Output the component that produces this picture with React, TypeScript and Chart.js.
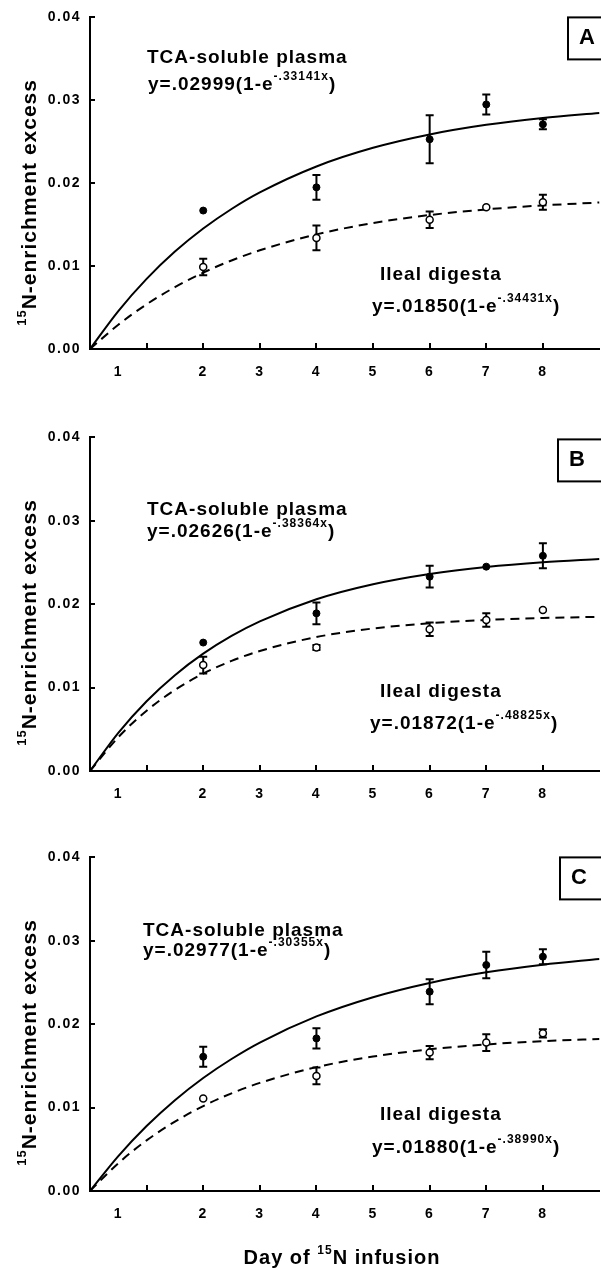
import React, { useEffect, useRef } from "react";
import { Chart, registerables } from "chart.js";

Chart.register(...registerables);

// ---------------- data ----------------
const days = [2, 4, 6, 7, 8];

const plasmaA = [0.0167, 0.0195, 0.0253, 0.0295, 0.0271];
const plasmaErrA = [0, 0.0015, 0.0029, 0.0012, 0.0006];
const ilealA = [0.0099, 0.0134, 0.0156, 0.0171, 0.0177];
const ilealErrA = [0.001, 0.0015, 0.001, 0, 0.0009];

const plasmaB = [0.0154, 0.0189, 0.0233, 0.0245, 0.0258];
const plasmaErrB = [0, 0.0013, 0.0013, 0, 0.0015];
const ilealB = [0.0127, 0.0148, 0.017, 0.0181, 0.0193];
const ilealErrB = [0.001, 0.0003, 0.0008, 0.0008, 0];

const plasmaC = [0.0161, 0.0183, 0.0239, 0.0271, 0.0281];
const plasmaErrC = [0.0012, 0.0012, 0.0015, 0.0016, 0.0009];
const ilealC = [0.0111, 0.0138, 0.0166, 0.0178, 0.0189];
const ilealErrC = [0, 0.001, 0.0008, 0.001, 0.0005];

// fitted curves
const curveDays = [0, 0.5, 1, 1.5, 2, 2.5, 3, 4, 5, 6, 7, 8, 9];
const plasmaCurveA = [0, 0.00458, 0.00846, 0.01175, 0.01453, 0.01689, 0.01889, 0.02202, 0.02427, 0.02588, 0.02704, 0.02787, 0.02847];
const ilealCurveA = [0, 0.00293, 0.00539, 0.00746, 0.00921, 0.01068, 0.01191, 0.01383, 0.01519, 0.01616, 0.01684, 0.01732, 0.01767];
const plasmaCurveB = [0, 0.00458, 0.00837, 0.01149, 0.01407, 0.0162, 0.01795, 0.0206, 0.0224, 0.02363, 0.02447, 0.02504, 0.02543];
const ilealCurveB = [0, 0.00405, 0.00723, 0.00972, 0.01167, 0.0132, 0.01439, 0.01606, 0.01709, 0.01772, 0.01811, 0.01834, 0.01849];
const plasmaCurveC = [0, 0.00419, 0.00779, 0.01089, 0.01355, 0.01583, 0.0178, 0.02093, 0.02324, 0.02495, 0.02622, 0.02714, 0.02783];
const ilealCurveC = [0, 0.00333, 0.00607, 0.00832, 0.01018, 0.01171, 0.01296, 0.01485, 0.01612, 0.01699, 0.01757, 0.01797, 0.01824];

const xTickMarks = [1, 2, 3, 4, 5, 6, 7, 8];
const xTickLabelPos = [0.5, 2, 3, 4, 5, 6, 7, 8];
const xTickLabels = ["1", "2", "3", "4", "5", "6", "7", "8"];
const yTickValues = [0, 0.01, 0.02, 0.03, 0.04];
const yTickLabels = ["0.00", "0.01", "0.02", "0.03", "0.04"];

const panelLetters = ["A", "B", "C"];
const plasmaLabel = "TCA-soluble plasma";
const ilealLabel = "Ileal digesta";
const plasmaCoefs = [".02999", ".02626", ".02977"];
const plasmaRates = ["-.33141x", "-.38364x", "-.30355x"];
const ilealCoefs = [".01850", ".01872", ".01880"];
const ilealRates = ["-.34431x", "-.48825x", "-.38990x"];
const yTitleSup = "15";
const yTitleMain = "N-enrichment excess";
const xTitlePre = "Day of ";
const xTitleSup = "15";
const xTitlePost = "N infusion";

const series = [
  { plasma: plasmaA, plasmaErr: plasmaErrA, ileal: ilealA, ilealErr: ilealErrA, pc: plasmaCurveA, ic: ilealCurveA },
  { plasma: plasmaB, plasmaErr: plasmaErrB, ileal: ilealB, ilealErr: ilealErrB, pc: plasmaCurveB, ic: ilealCurveB },
  { plasma: plasmaC, plasmaErr: plasmaErrC, ileal: ilealC, ilealErr: ilealErrC, pc: plasmaCurveC, ic: ilealCurveC },
];

// ---------------- layout ----------------
const CANVAS_W = 605;
const LAYOUT = [
  { top: 0, height: 420, areaTop: 13, areaBottom: 349, plasma: [57, 40], plasmaEq: [58, 67], ileal: [290, 257], ilealEq: [282, 289], box: [478, 0], xTitle: false },
  { top: 420, height: 420, areaTop: 16, areaBottom: 351, plasma: [57, 72], plasmaEq: [57, 94], ileal: [290, 254], ilealEq: [280, 286], box: [468, 2], xTitle: false },
  { top: 840, height: 430, areaTop: 15, areaBottom: 351, plasma: [53, 73], plasmaEq: [53, 93], ileal: [290, 257], ilealEq: [282, 290], box: [470, 0], xTitle: true },
];

const FAMILY = '"Liberation Sans", Arial, Helvetica, sans-serif';

type Seg = { t: string; sup?: boolean };

function drawRich(ctx: CanvasRenderingContext2D, segs: Seg[], x: number, y: number, size: number, supSize: number, spacing: number, align: "left" | "center") {
  ctx.save();
  ctx.fillStyle = "#000";
  ctx.textBaseline = "middle";
  ctx.textAlign = "left";
  (ctx as any).letterSpacing = spacing + "px";
  const fontFor = (s: number) => `bold ${s}px ${FAMILY}`;
  let total = 0;
  for (const s of segs) {
    ctx.font = fontFor(s.sup ? supSize : size);
    total += ctx.measureText(s.t).width;
  }
  let cx = align === "center" ? x - total / 2 : x;
  for (const s of segs) {
    ctx.font = fontFor(s.sup ? supSize : size);
    ctx.fillText(s.t, cx, s.sup ? y - size * 0.38 : y);
    cx += ctx.measureText(s.t).width;
  }
  ctx.restore();
}

function makePanel(canvas: HTMLCanvasElement, idx: number) {
  const L = LAYOUT[idx];
  const S = series[idx];

  const errorBars = {
    id: "errorBars" + idx,
    beforeDatasetsDraw(chart: any) {
      const ctx = chart.ctx;
      const xs = chart.scales.x;
      const ys = chart.scales.y;
      ctx.save();
      ctx.strokeStyle = "#000";
      ctx.lineWidth = 2;
      chart.data.datasets.forEach((ds: any) => {
        if (!ds.errors) return;
        ds.data.forEach((p: any, i: number) => {
          const e = ds.errors[i];
          if (!e) return;
          const px = xs.getPixelForValue(p.x);
          const y1 = ys.getPixelForValue(p.y + e);
          const y2 = ys.getPixelForValue(p.y - e);
          ctx.beginPath();
          ctx.moveTo(px, y1);
          ctx.lineTo(px, y2);
          ctx.moveTo(px - 4, y1);
          ctx.lineTo(px + 4, y1);
          ctx.moveTo(px - 4, y2);
          ctx.lineTo(px + 4, y2);
          ctx.stroke();
        });
      });
      ctx.restore();
    },
  };

  const decorations = {
    id: "decor" + idx,
    beforeDraw(chart: any) {
      (chart.ctx as any).letterSpacing = "1.5px";
    },
    afterDraw(chart: any) {
      const ctx = chart.ctx as CanvasRenderingContext2D;
      const xs = chart.scales.x;
      const ys = chart.scales.y;
      const a = chart.chartArea;
      ctx.save();
      ctx.strokeStyle = "#000";
      ctx.lineWidth = 2;
      ctx.beginPath();
      xTickMarks.forEach((v) => {
        const px = Math.round(xs.getPixelForValue(v));
        ctx.moveTo(px, a.bottom);
        ctx.lineTo(px, a.bottom - 6);
      });
      yTickValues.forEach((v) => {
        if (v === 0) return;
        const py = Math.round(ys.getPixelForValue(v));
        ctx.moveTo(a.left, py);
        ctx.lineTo(a.left + 5, py);
      });
      ctx.stroke();

      // panel letter box (its right side runs off the page)
      const bx = a.left + L.box[0];
      const by = a.top + L.box[1];
      ctx.strokeRect(bx, by, 60, 42);
      ctx.restore();
      drawRich(ctx, [{ t: panelLetters[idx] }], bx + 19, by + 21, 22, 22, 0, "center");

      // annotations
      drawRich(ctx, [{ t: plasmaLabel }], a.left + L.plasma[0], a.top + L.plasma[1], 19, 12, 1, "left");
      drawRich(ctx, [{ t: "y=" + plasmaCoefs[idx] + "(1-e" }, { t: plasmaRates[idx], sup: true }, { t: ")" }], a.left + L.plasmaEq[0], a.top + L.plasmaEq[1], 19, 12, 1, "left");
      drawRich(ctx, [{ t: ilealLabel }], a.left + L.ileal[0], a.top + L.ileal[1], 19, 12, 1, "left");
      drawRich(ctx, [{ t: "y=" + ilealCoefs[idx] + "(1-e" }, { t: ilealRates[idx], sup: true }, { t: ")" }], a.left + L.ilealEq[0], a.top + L.ilealEq[1], 19, 12, 1, "left");

      // y title (rotated)
      ctx.save();
      ctx.translate(30, a.top + 185);
      ctx.rotate(-Math.PI / 2);
      drawRich(ctx, [{ t: yTitleSup, sup: true }, { t: yTitleMain }], 0, 0, 21, 13, 1, "center");
      ctx.restore();

      if (L.xTitle) {
        drawRich(ctx, [{ t: xTitlePre }, { t: xTitleSup, sup: true }, { t: xTitlePost }], 342, 418, 20, 12, 1, "center");
      }
    },
  };

  const pts = (vals: number[]) => days.map((d, i) => ({ x: d, y: vals[i] }));
  const curve = (vals: number[]) => curveDays.map((d, i) => ({ x: d, y: vals[i] }));

  return new Chart(canvas, {
    type: "scatter",
    data: {
      datasets: [
        {
          data: pts(S.plasma),
          errors: S.plasmaErr,
          pointRadius: 3.5,
          pointBackgroundColor: "#000",
          pointBorderColor: "#000",
          pointBorderWidth: 1,
          showLine: false,
        } as any,
        {
          data: pts(S.ileal),
          errors: S.ilealErr,
          pointRadius: 3.5,
          pointBackgroundColor: "#fff",
          pointBorderColor: "#000",
          pointBorderWidth: 1.5,
          showLine: false,
        } as any,
        {
          data: curve(S.pc),
          showLine: true,
          pointRadius: 0,
          borderColor: "#000",
          borderWidth: 2,
          cubicInterpolationMode: "monotone",
          fill: false,
        },
        {
          data: curve(S.ic),
          showLine: true,
          pointRadius: 0,
          borderColor: "#000",
          borderWidth: 2,
          borderDash: [9, 6],
          cubicInterpolationMode: "monotone",
          fill: false,
        },
      ],
    },
    options: {
      responsive: false,
      animation: false,
      devicePixelRatio: 1,
      events: [],
      layout: { padding: { top: L.areaTop, right: 2, left: 0, bottom: 0 } },
      plugins: { legend: { display: false }, tooltip: { enabled: false } },
      scales: {
        x: {
          type: "linear",
          min: 0,
          max: 9,
          grid: { display: false, drawTicks: false },
          border: { display: true, color: "#000", width: 2 },
          afterBuildTicks: (scale: any) => {
            scale.ticks = xTickLabelPos.map((v) => ({ value: v }));
          },
          afterFit: (scale: any) => {
            scale.height = L.height - L.areaBottom;
          },
          ticks: {
            autoSkip: false,
            maxRotation: 0,
            padding: 15,
            color: "#000",
            font: { family: FAMILY, size: 14, weight: "bold" },
            callback: (_v: any, i: number) => xTickLabels[i],
          },
        },
        y: {
          type: "linear",
          min: 0,
          max: 0.04,
          grid: { display: false, drawTicks: false },
          border: { display: true, color: "#000", width: 2 },
          afterBuildTicks: (scale: any) => {
            scale.ticks = yTickValues.map((v) => ({ value: v }));
          },
          afterFit: (scale: any) => {
            scale.width = 90;
          },
          ticks: {
            padding: 9,
            color: "#000",
            font: { family: FAMILY, size: 14, weight: "bold" },
            callback: (_v: any, i: number) => yTickLabels[i],
          },
        },
      },
    } as any,
    plugins: [errorBars, decorations],
  });
}

export default function App() {
  const refs = [useRef<HTMLCanvasElement>(null), useRef<HTMLCanvasElement>(null), useRef<HTMLCanvasElement>(null)];

  useEffect(() => {
    const charts = refs.map((r, i) => (r.current ? makePanel(r.current, i) : null));
    return () => {
      charts.forEach((c) => c && c.destroy());
    };
  }, []);

  return (
    <div
      style={{
        position: "absolute",
        left: 0,
        top: 0,
        width: 601,
        height: 1270,
        overflow: "hidden",
        background: "#fff",
      }}
    >
      {LAYOUT.map((l, i) => (
        <canvas
          key={i}
          ref={refs[i]}
          width={CANVAS_W}
          height={l.height}
          style={{ position: "absolute", left: 0, top: l.top, width: CANVAS_W, height: l.height }}
        />
      ))}
    </div>
  );
}
